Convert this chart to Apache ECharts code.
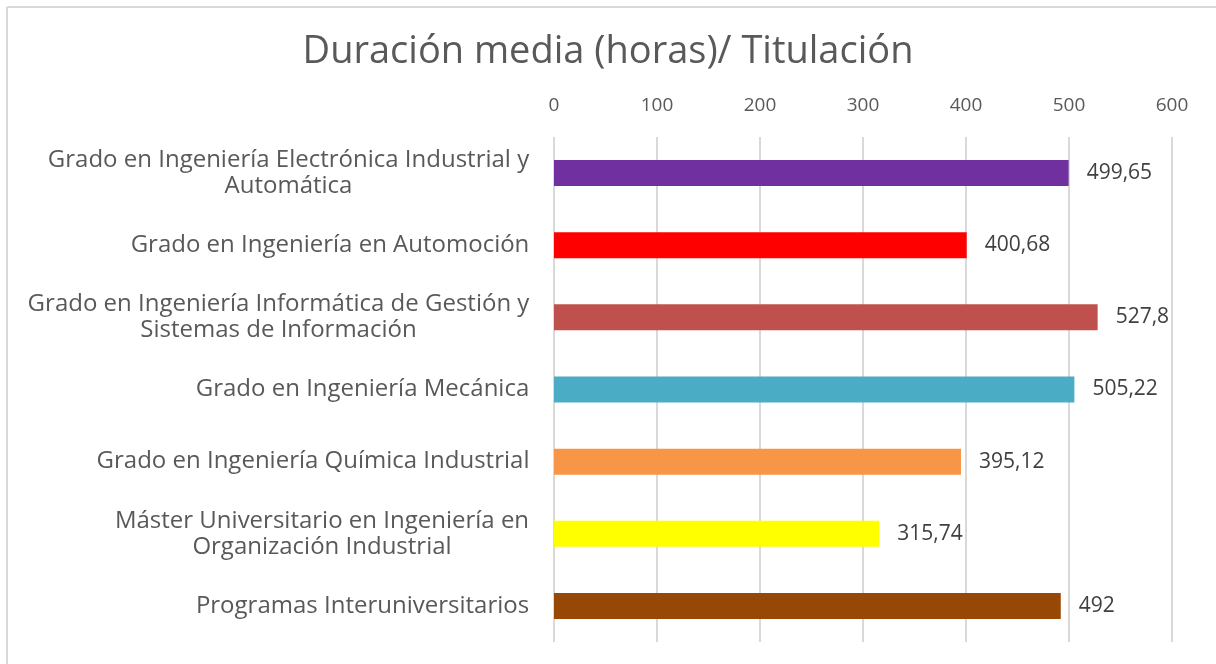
<!DOCTYPE html>
<html>
<head>
<meta charset="utf-8">
<script src="https://cdn.jsdelivr.net/npm/echarts@6/dist/echarts.min.js"></script>
<style>
html,body{margin:0;padding:0;background:#fff;}
#c{width:1216px;height:664px;}
</style>
</head>
<body>
<div id="c"></div>
<script>
var titleText = 'Duración media (horas)/ Titulación';
var categories = [
  'Grado en Ingeniería Electrónica Industrial y\nAutomática',
  'Grado en Ingeniería en Automoción',
  'Grado en Ingeniería Informática de Gestión y\nSistemas de Información',
  'Grado en Ingeniería Mecánica',
  'Grado en Ingeniería Química Industrial',
  'Máster Universitario en Ingeniería en\nOrganización Industrial',
  'Programas Interuniversitarios'
];
var values = [499.65, 400.68, 527.8, 505.22, 395.12, 315.74, 492];
var barColors = ['#7030A0', '#FF0000', '#C0504D', '#4BACC6', '#F79646', '#FFFF00', '#974706'];
var axisMin = 0, axisMax = 600, axisStep = 100;

var FONT = '"Open Sans", "Noto Sans", sans-serif';
var labelSize = 24;

// measure widths to center multi-line category labels like the original
var cv = document.createElement('canvas').getContext('2d');
cv.font = labelSize + 'px "Open Sans"';
var rich = {};
var formatted = {};
categories.forEach(function (c, i) {
  var lines = c.split('\n');
  var w = 0;
  lines.forEach(function (l) { w = Math.max(w, cv.measureText(l).width); });
  w = Math.ceil(w) + 1;
  rich['l' + i] = { width: w, align: 'center', fontSize: labelSize, fontFamily: FONT, color: '#595959', lineHeight: 26 };
  formatted[c] = lines.map(function (l) { return '{l' + i + '|' + l + '}'; }).join('\n');
});

var chart = echarts.init(document.getElementById('c'), null, { renderer: 'canvas' });
chart.setOption({
  backgroundColor: '#ffffff',
  animation: false,
  title: {
    text: titleText,
    left: 'center',
    top: 28,
    textStyle: { fontFamily: FONT, fontSize: 38, fontWeight: 'normal', color: '#595959' }
  },
  graphic: [
    { type: 'line', shape: { x1: 7, y1: 7, x2: 1216, y2: 7 }, style: { stroke: '#d9d9d9', lineWidth: 2 }, silent: true },
    { type: 'line', shape: { x1: 7, y1: 7, x2: 7, y2: 664 }, style: { stroke: '#d9d9d9', lineWidth: 2 }, silent: true }
  ],
  grid: { left: 554, right: 44, top: 137, bottom: 22, containLabel: false },
  xAxis: {
    type: 'value',
    position: 'top',
    min: axisMin, max: axisMax, interval: axisStep,
    axisLine: { show: false },
    axisTick: { show: false },
    axisLabel: { fontFamily: FONT, fontSize: 19, color: '#595959', margin: 22 },
    splitLine: { show: true, lineStyle: { color: '#d9d9d9', width: 2 } }
  },
  yAxis: {
    type: 'category',
    data: categories,
    inverse: true,
    axisLine: { show: false },
    axisTick: { show: false },
    axisLabel: {
      margin: 24,
      formatter: function (v) { return formatted[v]; },
      rich: rich
    }
  },
  series: [{
    type: 'bar',
    data: values.map(function (v, i) { return { value: v, itemStyle: { color: barColors[i] } }; }),
    barWidth: 26,
    label: {
      show: true,
      position: 'right',
      distance: 18,
      fontFamily: FONT,
      fontSize: 21,
      color: '#404040',
      formatter: function (p) { return String(p.value).replace('.', ','); }
    }
  }]
});
</script>
</body>
</html>
